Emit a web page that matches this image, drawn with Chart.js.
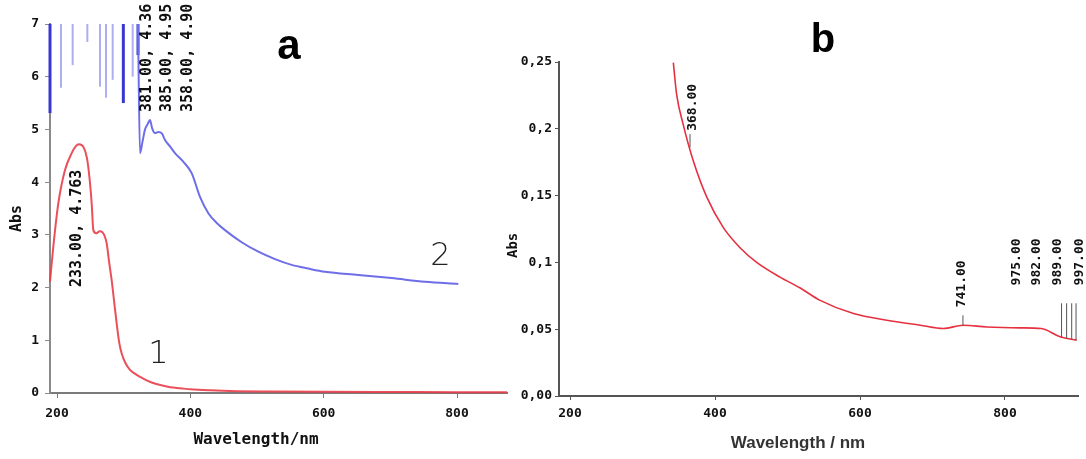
<!DOCTYPE html>
<html><head><meta charset="utf-8">
<script src="https://cdn.jsdelivr.net/npm/chart.js@4.4.0/dist/chart.umd.min.js"></script>
<style>
html,body{margin:0;padding:0;background:#fff;}
#wrap{position:relative;width:1086px;height:459px;overflow:hidden;background:#fff;}
#wrap canvas{position:absolute;left:0;top:0;}
</style></head><body>
<div id="wrap"><canvas id="ca" width="1086" height="459"></canvas><canvas id="cb" width="1086" height="459"></canvas></div>
<script>
// ---------- Panel a data ----------
const xTicksA = [200, 400, 600, 800];
const yTicksA = [0, 1, 2, 3, 4, 5, 6, 7];
const curve1X = [189.5,194.5,202,212,222,228,233,240,245,249,252,254.5,259,264,268,274.5,278,282,286,289.5,293,297,303,309.5,320,330,342,355,370,385,400,430,470,520,600,700,800,875];
const curve1Y = [2.11,2.78,3.60,4.23,4.55,4.68,4.72,4.66,4.45,4.05,3.60,3.09,3.03,3.07,3.05,2.84,2.50,2.14,1.70,1.32,0.98,0.75,0.56,0.44,0.34,0.27,0.20,0.15,0.11,0.09,0.07,0.05,0.035,0.028,0.022,0.018,0.015,0.013];
const curve2X = [321.5,324.5,328,332,336,339.5,342.5,347,352,357.5,362,370,377,390,402,414.5,427,440,452,477,502,527,552,577,602,652,702,752,802];
const curve2Y = [7.0,4.55,4.75,5.0,5.1,5.18,5.03,4.93,4.95,4.92,4.80,4.67,4.55,4.38,4.17,3.72,3.41,3.22,3.09,2.86,2.68,2.54,2.43,2.36,2.30,2.24,2.18,2.11,2.07];
const satTopA = 7;
const satDarkX = [189.5, 299.5, 321.5];
const satDarkBottom = [5.31, 5.50, 6.41];
const satLightX = [206, 223.5, 245.5, 264.5, 273.5, 283.5, 313.5];
const satLightBottom = [5.79, 6.22, 6.66, 5.81, 5.60, 5.94, 6.00];
const peakLabelsA = ['233.00, 4.763', '381.00, 4.36', '385.00, 4.95', '358.00, 4.90'];
const peakLabelXA = [230, 335, 365, 396.5];
const peakLabelBaseA = [2.01, 5.33, 5.33, 5.33];
const curveNames = ['1', '2'];
const curveNameX = [352, 775];
const curveNameY = [0.57, 2.43];

// ---------- Panel b data ----------
const xTicksB = [200, 400, 600, 800];
const yTicksB = [0, 0.05, 0.10, 0.15, 0.20, 0.25];
const yTickLabelsB = ['0,00', '0,05', '0,1', '0,15', '0,2', '0,25'];
const curveBX = [342.5,347,356,370,388.5,411.5,434.5,457.5,489.5,517,545,591,637,683,715,742,775,821,850,876,899];
const curveBY = [0.2495,0.226,0.2035,0.176,0.149,0.126,0.111,0.100,0.089,0.081,0.0716,0.0617,0.0567,0.053,0.0505,0.053,0.0517,0.051,0.0505,0.0443,0.0418];
const markBX = [365.5, 742, 878, 885, 892, 898];
const markBTop = [0.196, 0.0604, 0.0694, 0.0694, 0.0694, 0.0694];
const markBBottom = [0.186, 0.053, 0.0440, 0.0432, 0.0425, 0.0420];
const peakLabelsB = ['368.00', '741.00', '975.00', '982.00', '989.00', '997.00'];
const peakLabelXB = [369.6, 740.7, 816.6, 844, 873, 903.4];
const peakLabelBaseB = [0.1985, 0.0664, 0.0828, 0.0828, 0.0828, 0.0828];

// ---------- helpers ----------
const zip = (xs, ys) => xs.map((x, i) => ({x: x, y: ys[i]}));
const MONO = "'DejaVu Sans Mono', monospace";
function vline(ctx, x, y1, y2, color, w) {
  ctx.beginPath(); ctx.strokeStyle = color; ctx.lineWidth = w;
  ctx.moveTo(x, y1); ctx.lineTo(x, y2); ctx.stroke();
}
function vtext(ctx, text, x, yBottom, font, color) {
  ctx.save(); ctx.translate(x, yBottom); ctx.rotate(-Math.PI / 2);
  ctx.font = font; ctx.fillStyle = color; ctx.textAlign = 'left'; ctx.textBaseline = 'middle';
  ctx.fillText(text, 0, 0); ctx.restore();
}
function axisCommon(tickLen, pad, color) {
  return {
    grid: {drawOnChartArea: false, drawTicks: true, tickLength: tickLen, color: color, lineWidth: 1},
    border: {color: color, width: 2},
    ticks: {font: {family: MONO, size: 13, weight: 'bold'}, color: '#111', padding: pad, maxRotation: 0, autoSkip: false}
  };
}

// ---------- Panel a ----------
const annotA = {
  id: 'annotA',
  beforeDatasetsDraw(chart) {
    const {ctx, scales: {x, y}} = chart;
    ctx.save();
    satLightX.forEach((v, i) => vline(ctx, x.getPixelForValue(v), y.getPixelForValue(satTopA), y.getPixelForValue(satLightBottom[i]), 'rgba(120,120,235,0.6)', 2));
    satDarkX.forEach((v, i) => vline(ctx, x.getPixelForValue(v), y.getPixelForValue(satTopA), y.getPixelForValue(satDarkBottom[i]), '#3838d0', 3));
    ctx.restore();
  },
  afterDraw(chart) {
    const {ctx, scales: {x, y}} = chart;
    ctx.save();
    peakLabelsA.forEach((t, i) => vtext(ctx, t, x.getPixelForValue(peakLabelXA[i]), y.getPixelForValue(peakLabelBaseA[i]), 'bold 15px ' + MONO, '#111'));
    ctx.font = "200 32px 'DejaVu Sans'"; ctx.fillStyle = '#222'; ctx.textAlign = 'center'; ctx.textBaseline = 'alphabetic';
    curveNames.forEach((t, i) => ctx.fillText(t, x.getPixelForValue(curveNameX[i]), y.getPixelForValue(curveNameY[i])));
    // panel letter and axis titles
    ctx.font = "bold 42px 'Liberation Sans'"; ctx.fillStyle = '#000';
    ctx.fillText('a', 289, 59);
    ctx.font = 'bold 16px ' + MONO; ctx.fillStyle = '#111'; ctx.textBaseline = 'middle';
    ctx.fillText('Wavelength/nm', 256, 440);
    vtext(ctx, 'Abs', 17, 232, 'bold 15px ' + MONO, '#111');
    ctx.restore();
  }
};

const axA_x = axisCommon(5, 8, '#7a7a7a');
const axA_y = axisCommon(5, 6, '#8a8a8a');
new Chart(document.getElementById('ca'), {
  type: 'line',
  data: {datasets: [
    {data: zip(curve1X, curve1Y), borderColor: 'rgba(232,60,72,0.9)', borderWidth: 2, pointRadius: 0, cubicInterpolationMode: 'monotone', clip: false},
    {data: zip(curve2X, curve2Y), borderColor: '#6e6ee8', borderWidth: 2, pointRadius: 0, cubicInterpolationMode: 'monotone', clip: false}
  ]},
  options: {
    responsive: false, animation: false, events: [],
    layout: {padding: {left: 10, right: 579, top: 24, bottom: 6}},
    plugins: {legend: {display: false}, tooltip: {enabled: false}},
    scales: {
      x: Object.assign({type: 'linear', min: 189.5, max: 875,
        afterFit: s => { s.height = 60; },
        afterBuildTicks: s => { s.ticks = xTicksA.map(v => ({value: v})); }}, axA_x),
      y: Object.assign({type: 'linear', min: 0, max: 7,
        afterFit: s => { s.width = 40; },
        afterBuildTicks: s => { s.ticks = yTicksA.map(v => ({value: v})); }}, axA_y)
    }
  },
  plugins: [annotA]
});

// ---------- Panel b ----------
const annotB = {
  id: 'annotB',
  afterDraw(chart) {
    const {ctx, scales: {x, y}} = chart;
    ctx.save();
    markBX.forEach((v, i) => vline(ctx, x.getPixelForValue(v), y.getPixelForValue(markBTop[i]), y.getPixelForValue(markBBottom[i]), '#555', 1));
    peakLabelsB.forEach((t, i) => vtext(ctx, t, x.getPixelForValue(peakLabelXB[i]), y.getPixelForValue(peakLabelBaseB[i]), 'bold 13px ' + MONO, '#111'));
    ctx.font = "bold 40px 'Liberation Sans'"; ctx.fillStyle = '#000'; ctx.textAlign = 'center'; ctx.textBaseline = 'alphabetic';
    ctx.fillText('b', 823, 52);
    ctx.font = "bold 17px 'Liberation Sans'"; ctx.fillStyle = '#333'; ctx.textBaseline = 'middle';
    ctx.fillText('Wavelength / nm', 798, 443);
    vtext(ctx, 'Abs', 513, 258, 'bold 14px ' + MONO, '#111');
    ctx.restore();
  }
};

const axB_x = axisCommon(4, 6, '#555');
const axB_y = axisCommon(4, 3, '#555');
axB_y.ticks.callback = (v) => { const i = yTicksB.findIndex(t => Math.abs(t - v) < 1e-9); return i >= 0 ? yTickLabelsB[i] : ''; };
new Chart(document.getElementById('cb'), {
  type: 'line',
  data: {datasets: [
    {data: zip(curveBX, curveBY), borderColor: '#e63040', borderWidth: 1.6, pointRadius: 0, cubicInterpolationMode: 'monotone', clip: false}
  ]},
  options: {
    responsive: false, animation: false, events: [],
    layout: {padding: {left: 509, right: 8, top: 62, bottom: 3}},
    plugins: {legend: {display: false}, tooltip: {enabled: false}},
    scales: {
      x: Object.assign({type: 'linear', min: 184.8, max: 900.7,
        afterFit: s => { s.height = 60; },
        afterBuildTicks: s => { s.ticks = xTicksB.map(v => ({value: v})); }}, axB_x),
      y: Object.assign({type: 'linear', min: 0, max: 0.25,
        afterFit: s => { s.width = 50; },
        afterBuildTicks: s => { s.ticks = yTicksB.map(v => ({value: v})); }}, axB_y)
    }
  },
  plugins: [annotB]
});
</script>
</body></html>
